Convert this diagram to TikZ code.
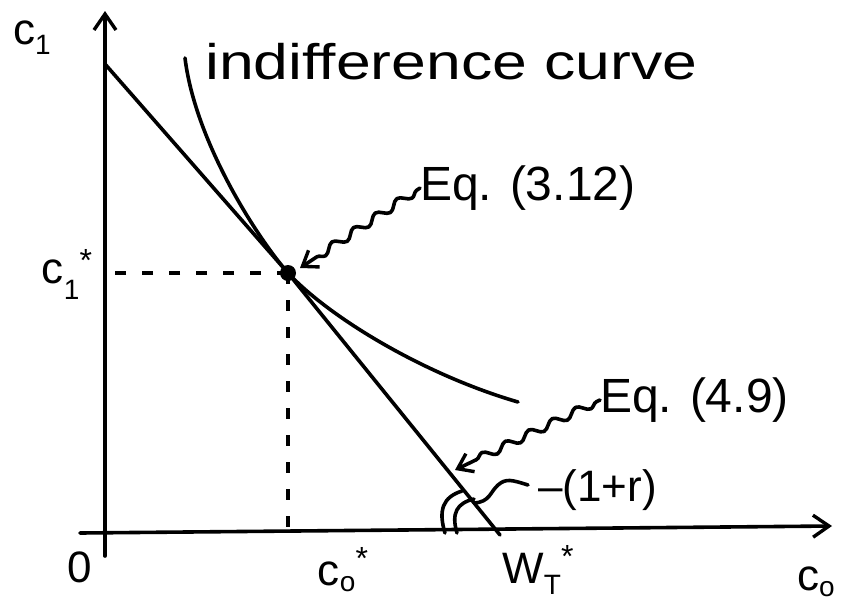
\documentclass[tikz,border=0pt]{standalone}
\usepackage{fontspec}
\setmainfont{Liberation Sans}
\usetikzlibrary{arrows.meta,decorations.pathmorphing}
\newcommand{\subsz}{\fontsize{28}{30}\selectfont}
\newcommand{\starsz}{\fontsize{32}{34}\selectfont}
\begin{document}
\begin{tikzpicture}[x=1pt,y=-1pt,
  ln/.style={line width=3.6pt,line cap=round,line join=round},
  dsh/.style={line width=3.4pt,dash pattern=on 11pt off 16pt},
  lbl/.style={inner sep=0pt,font=\fontsize{44}{46}\selectfont},
  eqf/.style={inner sep=0pt,font=\fontsize{48}{50}\selectfont},
  big/.style={inner sep=0pt,font=\fontsize{50}{54}\selectfont},
  wavy/.style={ln,-{Straight Barb[length=14pt,width=20pt,line width=3.4pt]},
    decorate,decoration={snake,amplitude=4pt,segment length=26pt,pre length=4pt,post length=16pt}}]
\useasboundingbox (0,0) rectangle (849,603);
% axes
\coordinate (O) at (105,533);
\coordinate (ytop) at (105,11);
\coordinate (xend) at (832,526);
\draw[ln,-{Straight Barb[length=16pt,width=22pt,line width=3.4pt]}] (105,556) -- (ytop);
\draw[ln,-{Straight Barb[length=16pt,width=22pt,line width=3.4pt]}] (80,533) -- (xend);
% budget line
\coordinate (B0) at (105,64);
\coordinate (E) at (288,273);
\coordinate (W) at (500,535);
\draw[ln] (B0) -- (E) -- (W);
% indifference curve
\coordinate (I0) at (185,58);
\coordinate (I1) at (518,402);
\draw[ln] (I0) .. controls (195,140) and (255,235) .. (E) .. controls (330,318) and (425,375) .. (I1);
% dashed
\coordinate (Ey) at (105,273);
\coordinate (Ex) at (288,533);
\draw[dsh] (E) -- (Ey);
\draw[dsh] (E) -- (Ex);
\fill (E) circle (8pt);
% angle marks
\draw[ln] (445,533) .. controls (438,510) and (443,497) .. (462,491);
\draw[ln] (457,533) .. controls (451,513) and (457,503) .. (474,499);
% labels
\node[lbl] (c1) at (32,38) {c\raisebox{-10pt}{\subsz 1}};
\node[lbl] (c1s) at (67,274) {c\raisebox{-16pt}{\subsz 1}\raisebox{12pt}{\starsz *}};
\node[lbl] (zero) at (80,567) {0};
\node[lbl] (c0s) at (343,570) {c\raisebox{-6pt}{\subsz o}\raisebox{16pt}{\starsz *}};
\node[lbl] (WT) at (538,570) {W\raisebox{-11pt}{\subsz T}\raisebox{16pt}{\starsz *}};
\node[lbl,anchor=west] (c0) at (797,582) {c\raisebox{-6pt}{\subsz o}};
\node[big,anchor=west] (ic) at (205,62) {\scalebox{1.25}[1]{indifference curve}};
\node[eqf,anchor=west] (eq312) at (420,188) {Eq. (3.12)};
\node[eqf,anchor=west] (eq49) at (600,400) {Eq. (4.9)};
\node[lbl,anchor=west] (slope) at (538,490) {–(1+r)};
% wavy arrows
\coordinate (a1) at (300,268);
\coordinate (a2) at (455,470);
\coordinate (s0) at (528,485);
\draw[wavy] (eq312.west) -- (a1);
\draw[wavy] (eq49.west) -- (a2);
\draw[ln] (s0) .. controls (512,480) and (506,478) .. (498,485) .. controls (490,492) and (490,502) .. (474,503);
\end{tikzpicture}
\end{document}
